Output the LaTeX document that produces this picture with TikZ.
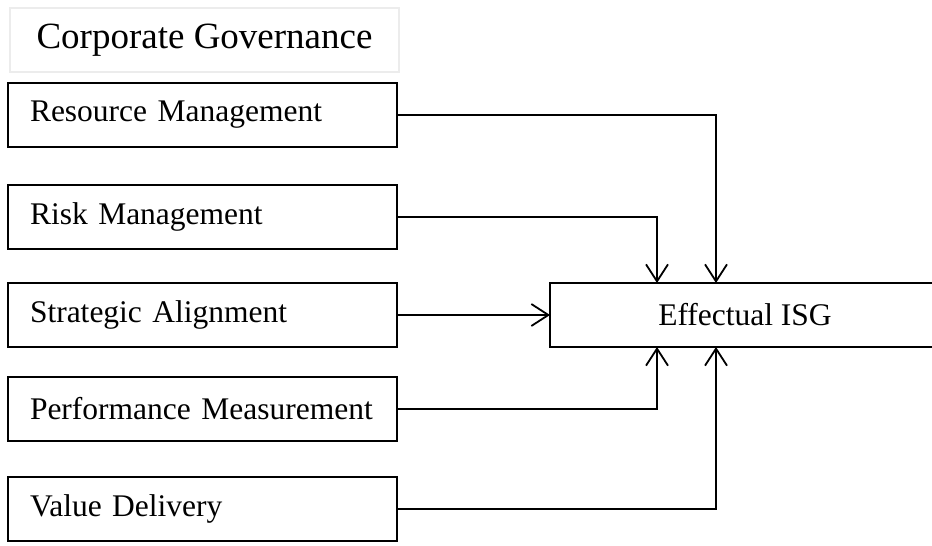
\documentclass[tikz,border=0pt]{standalone}
\usepackage{fontspec}
\setmainfont{Liberation Serif}
\usetikzlibrary{positioning}
\usetikzlibrary{arrows.meta}

\tikzset{
    factor/.style={draw, line width=1.6pt, outer sep=0pt, minimum height=64pt, text width=345pt,
        inner xsep=22pt, align=left, font=\fontsize{31.5}{36}\selectfont},
    link/.style={line width=1.8pt, -{Straight Barb[length=17pt,width=22pt]}}
}

\begin{document}
\begin{tikzpicture}[x=1pt,y=1pt]
        \useasboundingbox (0,0) rectangle (932,-546);
        \node [draw=gray!15, line width=1.2pt, minimum width=389pt, minimum height=64pt,
            font=\fontsize{37}{42}\selectfont] (title) at (204.5,-40) {Corporate Governance};
        \node [factor] (res) at (202.5,-115) {Resource Management};
        \node [factor, below=38pt of res] (risk) {Risk Management};
        \node [factor, below=34pt of risk] (strat) {Strategic Alignment};
        \node [factor, below=30pt of strat] (perf) {Performance Measurement};
        \node [factor, below=36pt of perf] (val) {Value Delivery};
        \node [draw, line width=1.6pt, outer sep=0pt, minimum width=390pt, minimum height=64pt,
            font=\fontsize{31.5}{36}\selectfont, right=153pt of strat] (isg) {Effectual ISG};
        \coordinate (inA) at ([xshift=-88pt]isg.north);
        \coordinate (inB) at ([xshift=-29pt]isg.north);
        \coordinate (inC) at ([xshift=-88pt]isg.south);
        \coordinate (inD) at ([xshift=-29pt]isg.south);
        \draw[link] (res.east) -| (inB);
        \draw[link] (risk.east) -| (inA);
        \draw[link] (strat.east) -- (isg.west);
        \draw[link] (perf.east) -| (inC);
        \draw[link] (val.east) -| (inD);
    \end{tikzpicture}
\end{document}
